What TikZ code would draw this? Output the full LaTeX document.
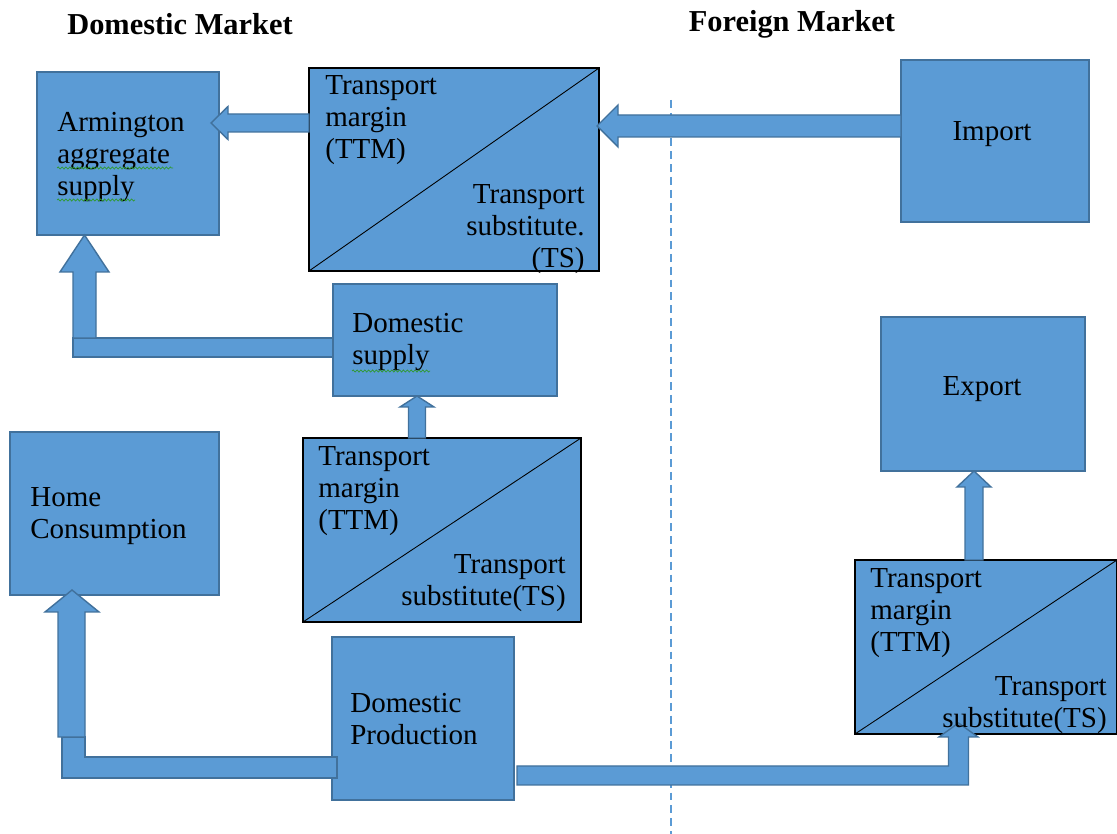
\documentclass[tikz,border=0pt]{standalone}
\usepackage{fontspec}
\setmainfont{Liberation Serif}
\usetikzlibrary{fit,calc,decorations.pathmorphing}

\definecolor{boxblue}{HTML}{5B9BD5}
\definecolor{edgeblue}{HTML}{41719C}
\definecolor{spellgreen}{HTML}{2E9A2E}

\begin{document}
\begin{tikzpicture}[x=0.02cm, y=-0.02cm,
	box/.style={draw=edgeblue, line width=0.9pt, fill=boxblue, inner sep=0pt, outer sep=0pt},
	ttmbox/.style={draw=black, line width=1.2pt, fill=boxblue, inner sep=0pt, outer sep=0pt},
	flow/.style={draw=edgeblue, line width=0.8pt, fill=boxblue},
	txt/.style={inner sep=0pt, align=left, font=\fontsize{16.5}{18.2}\selectfont},
	rtxt/.style={inner sep=0pt, align=right, font=\fontsize{16.5}{18.2}\selectfont},
	squiggle/.style={spellgreen, line width=0.4pt, decorate, decoration={snake, segment length=2.2pt, amplitude=0.6pt}},
	title/.style={inner sep=0pt, font=\fontsize{17.3}{20}\selectfont\bfseries}]

\useasboundingbox (0,0) rectangle (1117,834);

\node[title] (dm) at (180,24) {Domestic Market};
\node[title] (fm) at (792,24) {Foreign Market};

% border between the two markets
\draw[boxblue, line width=0.7pt, dash pattern=on 4.5pt off 2.8pt] (671,100) -- (671,834);

% boxes
\node[box, fit={(37,72) (219,235)}] (arm) {};
\node[ttmbox, fit={(309,68) (599,271)}] (ttma) {};
\node[box, fit={(901,60) (1089,222)}] (imp) {};
\node[box, fit={(333,284) (557,396)}] (dsup) {};
\node[ttmbox, fit={(303,438) (581,622)}] (ttmb) {};
\node[box, fit={(10,432) (219,595)}] (home) {};
\node[box, fit={(332,637) (514,800)}] (dprod) {};
\node[box, fit={(881,317) (1085,471)}] (exp) {};
\node[ttmbox, fit={(855,560) (1117,734)}] (ttmc) {};

\foreach \t in {ttma,ttmb,ttmc}
	\draw[line width=0.5pt] (\t.south west) -- (\t.north east);

% import -> margin -> armington
\draw[flow] ($(ttma.east |- 0,126)+(-2,0)$) -- ++(21,-21) -- ++(0,10) -- (imp.west |- 0,115)
	-- (imp.west |- 0,137) -- ($(ttma.east |- 0,137)+(19,0)$) -- ++(0,10) -- cycle;
\draw[flow] ($(arm.east |- 0,123)+(-8,0)$) -- ++(17,-16.5) -- ++(0,7.5) -- (ttma.west |- 0,114)
	-- (ttma.west |- 0,132) -- ($(arm.east |- 0,132)+(9,0)$) -- ++(0,7.5) -- cycle;

% domestic supply -> armington
\coordinate (a3) at ($(arm.south)+(-43.5,0)$);
\draw[flow] (dsup.west |- 0,338) -- ($(a3)+(-11.5,103)$) -- ++(0,19) -- (dsup.west |- 0,357) -- cycle;
\draw[flow] (a3) -- ++(24.5,37) -- ++(-13,0) -- ++(0,66) -- ++(-23,0) -- ++(0,-66) -- ++(-13,0) -- cycle;

% margin -> domestic supply
\draw[flow] ($(dsup.south)+(-28,0)$) -- ++(17,11) -- ++(-8.5,0) -- (ttmb.north -| 425.5,0)
	-- (ttmb.north -| 408.5,0) -- ++(0,-31) -- ++(-8.5,0) -- cycle;

% production -> home consumption
\coordinate (a5) at ($(home.south)+(-42.5,-5)$);
\draw[flow] ($(dprod.west |- 0,757)+(5,0)$) -- ($(a5)+(13,167)$) -- ++(0,-20) -- ++(-23,0)
	-- ++(0,41) -- ($(dprod.west |- 0,778)+(5,0)$) -- cycle;
\draw[flow] (a5) -- ++(27,22) -- ++(-14,0) -- ++(0,125) -- ++(-27,0) -- ++(0,-125) -- ++(-13,0) -- cycle;

% production -> margin -> export
\coordinate (a6) at ($(ttmc.south)+(-27.5,-11)$);
\draw[flow] ($(dprod.east |- 0,766)+(3,0)$) -- ($(a6)+(-10,43)$) -- ++(0,-29) -- ++(-9.5,0) -- (a6)
	-- ++(19.5,14) -- ++(-9.5,0) -- ++(0,48) -- ($(dprod.east |- 0,785)+(3,0)$) -- cycle;
\draw[flow] ($(exp.south)+(-9,0)$) -- ++(17,16) -- ++(-8,0) -- (ttmc.north -| 983,0)
	-- (ttmc.north -| 965,0) -- ++(0,-73) -- ++(-8,0) -- cycle;

% texts
\node[txt, anchor=north west] (tarm) at (57,112) {Armington\\aggregate\\supply};
\node[txt, anchor=north west] (tma) at (325,75) {Transport\\margin\\(TTM)};
\node[rtxt, anchor=south east] (tsa) at (585,274) {Transport\\substitute.\\(TS)};
\node[txt] (timp) at (992,134) {Import};
\node[txt, anchor=north west] (tdsup) at (352,313) {Domestic\\supply};
\node[txt, anchor=north west] (tmb) at (318,446) {Transport\\margin\\(TTM)};
\node[rtxt, anchor=south east] (tsb) at (566,612) {Transport\\substitute(TS)};
\node[txt, anchor=north west] (thome) at (30,487) {Home\\Consumption};
\node[txt, anchor=north west] (tdprod) at (350,693) {Domestic\\Production};
\node[txt] (texp) at (982,389) {Export};
\node[txt, anchor=north west] (tmc) at (870,568) {Transport\\margin\\(TTM)};
\node[rtxt, anchor=south east] (tsc) at (1107,734) {Transport\\substitute(TS)};

% spelling marks
\draw[squiggle] ($(tarm.north west)+(0,56)$) -- ++(116,0);
\draw[squiggle] ($(tarm.north west)+(0,88)$) -- ++(78,0);
\draw[squiggle] ($(tdsup.north west)+(0,58)$) -- ++(78,0);

\end{tikzpicture}
\end{document}
